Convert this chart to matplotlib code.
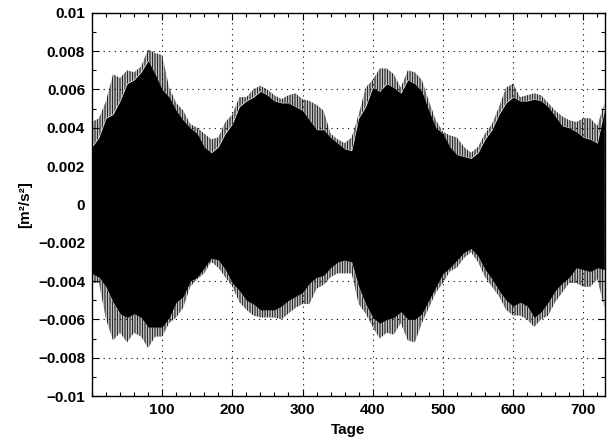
import numpy as np
import matplotlib
matplotlib.use('Agg')
import matplotlib.pyplot as plt
from matplotlib.ticker import MultipleLocator, FuncFormatter

tage = np.arange(0, 740, 10)

# obere Huelle: Spitzen und geschlossene Flaeche [m/s^2 * 1e-3]
oben_spitze = [4.3, 4.5, 5.4, 6.8, 6.6, 7.0, 6.9, 7.2, 8.1, 7.9, 7.8, 6.1, 5.3, 4.9, 4.2, 4.0, 3.7, 3.4, 3.5,
               4.3, 4.7, 5.6, 5.6, 6.0, 6.2, 6.0, 5.7, 5.5, 5.7, 5.8, 5.5, 5.4, 5.2, 4.9, 3.7, 3.4, 3.2,
               3.5, 4.7, 6.1, 6.5, 7.1, 7.1, 6.8, 6.1, 7.0, 6.9, 6.5, 5.4, 4.4, 3.8, 3.6, 3.5, 3.0, 2.7,
               3.0, 3.7, 4.2, 5.1, 6.1, 6.3, 5.6, 5.7, 5.8, 5.7, 5.3, 4.9, 4.6, 4.4, 4.3, 4.5, 4.5, 4.1, 5.3]
oben_flaeche = [3.0, 3.5, 4.5, 4.7, 5.4, 6.3, 6.5, 6.9, 7.5, 6.8, 6.0, 5.6, 4.9, 4.4, 4.0, 3.7, 3.0, 2.7, 3.0,
                3.7, 4.2, 5.1, 5.4, 5.6, 5.9, 5.7, 5.4, 5.3, 5.3, 5.1, 4.9, 4.4, 3.9, 3.9, 3.5, 3.2, 2.9,
                2.8, 4.5, 5.1, 6.1, 5.9, 6.3, 6.1, 5.8, 6.5, 6.3, 5.9, 4.9, 4.0, 3.7, 3.0, 2.6, 2.5, 2.4,
                2.7, 3.4, 3.9, 4.7, 5.3, 5.6, 5.4, 5.4, 5.5, 5.4, 5.1, 4.6, 4.1, 4.0, 3.8, 3.5, 3.4, 3.2, 4.9]

# untere Huelle
unten_spitze = [-4.1, -4.1, -6.0, -7.1, -6.7, -7.2, -6.7, -6.9, -7.5, -6.9, -6.9, -6.2, -5.9, -5.4, -4.3, -3.9,
                -3.6, -3.0, -3.3, -3.8, -4.3, -5.1, -5.5, -5.8, -5.9, -5.9, -5.9, -6.0, -5.7, -5.4, -5.2,
                -5.2, -4.4, -4.2, -3.8, -3.6, -3.6, -3.6, -5.2, -5.7, -6.4, -7.0, -6.7, -6.8, -6.2, -7.1,
                -7.2, -6.2, -5.4, -4.6, -4.1, -3.5, -3.3, -2.8, -2.5, -3.0, -3.8, -4.3, -4.8, -5.5, -5.8,
                -5.8, -6.0, -6.4, -6.0, -5.8, -5.1, -4.6, -4.1, -4.1, -4.3, -4.3, -3.9, -5.4]
unten_flaeche = [-3.6, -3.8, -4.3, -5.1, -5.7, -5.9, -5.7, -5.9, -6.4, -6.4, -6.4, -5.9, -5.1, -4.8, -4.0, -3.8,
                 -3.3, -2.8, -2.9, -3.4, -4.1, -4.5, -5.0, -5.2, -5.5, -5.5, -5.5, -5.3, -5.0, -4.8, -4.6,
                 -4.1, -3.8, -3.7, -3.3, -3.0, -2.9, -3.0, -4.3, -5.2, -5.9, -6.2, -6.0, -5.9, -5.6, -6.0,
                 -6.0, -5.7, -5.0, -4.3, -3.6, -3.3, -2.9, -2.5, -2.3, -2.7, -3.4, -3.9, -4.5, -5.0, -5.3,
                 -5.1, -5.3, -5.9, -5.6, -5.1, -4.5, -4.1, -3.8, -3.3, -3.4, -3.5, -3.3, -3.4]

os_ = np.array(oben_spitze) * 1e-3
of_ = np.array(oben_flaeche) * 1e-3
us_ = np.array(unten_spitze) * 1e-3
uf_ = np.array(unten_flaeche) * 1e-3

plt.rcParams['font.family'] = ['Liberation Sans', 'DejaVu Sans']
plt.rcParams['font.weight'] = 'bold'
plt.rcParams['hatch.linewidth'] = 0.6

fig = plt.figure(figsize=(6.13, 4.42), dpi=100)
ax = fig.add_axes([0.150, 0.104, 0.837, 0.867])

# geschlossene schwarze Flaeche
ax.fill_between(tage, uf_, of_, color='black', linewidth=0)
# Schwingungsspitzen als dichte senkrechte Striche
ax.fill_between(tage, of_, os_, facecolor='none', edgecolor='black', hatch='|' * 10, linewidth=0)
ax.fill_between(tage, us_, uf_, facecolor='none', edgecolor='black', hatch='|' * 10, linewidth=0)

ax.set_xlim(0, 731)
ax.set_ylim(-0.01, 0.01)
ax.xaxis.set_major_locator(MultipleLocator(100))
ax.xaxis.set_minor_locator(MultipleLocator(20))
ax.yaxis.set_major_locator(MultipleLocator(0.002))
ax.yaxis.set_minor_locator(MultipleLocator(0.001))


def fmt_y(v, pos):
    if abs(v) < 1e-12:
        return '0'
    return ('%g' % round(v, 4)).replace('-', '\u2212')


ax.yaxis.set_major_formatter(FuncFormatter(fmt_y))
ax.set_xticks(np.arange(100, 800, 100))

ax.grid(True, which='major', linestyle=(0, (1, 4)), linewidth=0.8, color='black')
ax.set_axisbelow(False)
ax.tick_params(which='both', direction='in', top=True, right=True, labelsize=11)
ax.tick_params(which='major', length=5, width=0.8, pad=5)
ax.tick_params(which='minor', length=3, width=0.8)
for s in ax.spines.values():
    s.set_linewidth(1.0)

ax.set_xlabel('Tage', fontsize=11, fontweight='bold', labelpad=4)
ax.set_ylabel('[m²/s²]', fontsize=11, fontweight='bold', labelpad=4)

fig.savefig('out.png', dpi=100)
